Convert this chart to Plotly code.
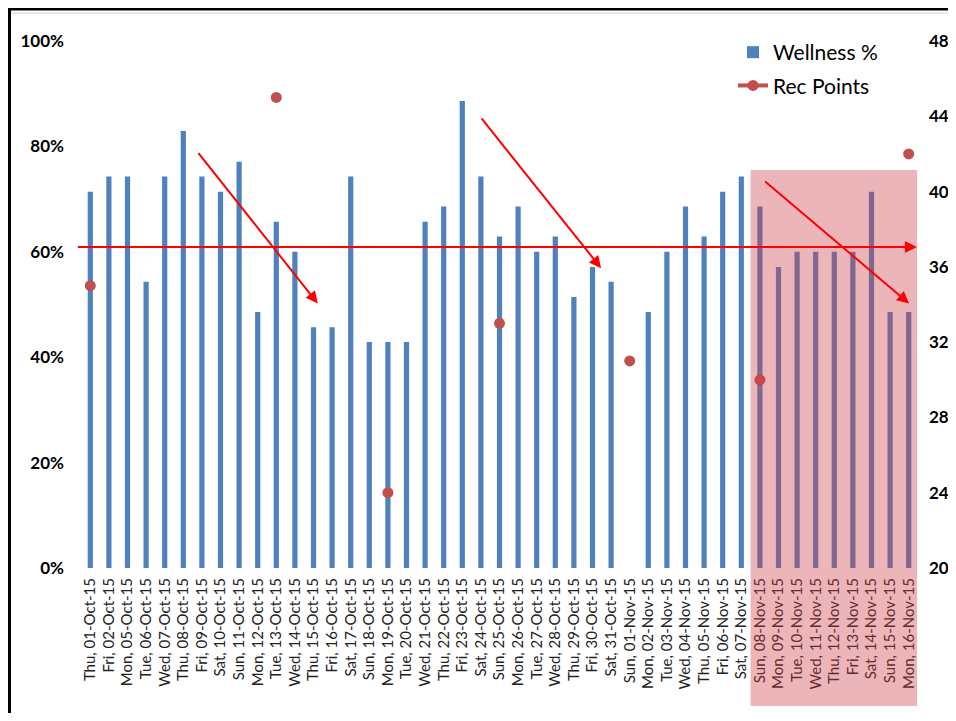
import plotly.graph_objects as go

dates = [
    "Thu, 01-Oct-15", "Fri, 02-Oct-15", "Mon, 05-Oct-15", "Tue, 06-Oct-15", "Wed, 07-Oct-15",
    "Thu, 08-Oct-15", "Fri, 09-Oct-15", "Sat, 10-Oct-15", "Sun, 11-Oct-15", "Mon, 12-Oct-15",
    "Tue, 13-Oct-15", "Wed, 14-Oct-15", "Thu, 15-Oct-15", "Fri, 16-Oct-15", "Sat, 17-Oct-15",
    "Sun, 18-Oct-15", "Mon, 19-Oct-15", "Tue, 20-Oct-15", "Wed, 21-Oct-15", "Thu, 22-Oct-15",
    "Fri, 23-Oct-15", "Sat, 24-Oct-15", "Sun, 25-Oct-15", "Mon, 26-Oct-15", "Tue, 27-Oct-15",
    "Wed, 28-Oct-15", "Thu, 29-Oct-15", "Fri, 30-Oct-15", "Sat, 31-Oct-15", "Sun, 01-Nov-15",
    "Mon, 02-Nov-15", "Tue, 03-Nov-15", "Wed, 04-Nov-15", "Thu, 05-Nov-15", "Fri, 06-Nov-15",
    "Sat, 07-Nov-15", "Sun, 08-Nov-15", "Mon, 09-Nov-15", "Tue, 10-Nov-15", "Wed, 11-Nov-15",
    "Thu, 12-Nov-15", "Fri, 13-Nov-15", "Sat, 14-Nov-15", "Sun, 15-Nov-15", "Mon, 16-Nov-15",
]

wellness = [
    0.714, 0.743, 0.743, 0.543, 0.743,
    0.829, 0.743, 0.714, 0.771, 0.486,
    0.657, 0.600, 0.457, 0.457, 0.743,
    0.429, 0.429, 0.429, 0.657, 0.686,
    0.886, 0.743, 0.629, 0.686, 0.600,
    0.629, 0.514, 0.571, 0.543, None,
    0.486, 0.600, 0.686, 0.629, 0.714,
    0.743, 0.686, 0.571, 0.600, 0.600,
    0.600, 0.600, 0.714, 0.486, 0.486,
]

rec_points = [
    35, None, None, None, None,
    None, None, None, None, None,
    45, None, None, None, None,
    None, 24, None, None, None,
    None, None, 33, None, None,
    None, None, None, None, 31,
    None, None, None, None, None,
    None, 30, None, None, None,
    None, None, None, None, 42,
]

left_ticks = [0, 0.2, 0.4, 0.6, 0.8, 1.0]
right_ticks = [20, 24, 28, 32, 36, 40, 44, 48]

# decorative annotation geometry (category index, wellness fraction)
avg_level = 0.609
trend_arrows = [
    ((5.75, 0.79), (12.23, 0.502)),
    ((20.97, 0.856), (27.46, 0.569)),
    ((36.2, 0.736), (44.02, 0.502)),
]

# layout in page pixels; the page body adds an 8px offset
OFF = 8
W, H = 940, 705
L, R, T, B = 81 - OFF, 918 - OFF, 41 - OFF, 568 - OFF


def px(x):
    return (x - OFF - L) / (R - L)


def py(y):
    return (B - (y - OFF)) / (B - T)


idx = list(range(len(dates)))

fig = go.Figure()
fig.add_trace(go.Bar(
    x=idx, y=wellness, name="Wellness %", legendgroup="a",
    marker=dict(color="#4F81BD", line=dict(width=0)),
    width=0.28,
))
fig.add_trace(go.Scatter(
    x=idx, y=rec_points, name="Rec Points", yaxis="y2", legendgroup="b",
    mode="lines+markers", connectgaps=False,
    line=dict(color="#C0504D", width=4),
    marker=dict(color="#C0504D", size=11),
))

annotations = []
annotations.append(dict(
    x=44.44, y=avg_level, xref="x", yref="y",
    ax=-0.75, ay=avg_level, axref="x", ayref="y",
    showarrow=True, arrowhead=2, arrowsize=1.2, arrowwidth=2, arrowcolor="#FF0000", text="",
))
for (x0, y0), (x1, y1) in trend_arrows:
    annotations.append(dict(
        x=x1, y=y1, xref="x", yref="y",
        ax=x0, ay=y0, axref="x", ayref="y",
        showarrow=True, arrowhead=2, arrowsize=1.2, arrowwidth=2, arrowcolor="#FF0000", text="",
    ))

shapes = [
    dict(type="rect", xref="x", yref="paper", x0=35.5, x1=44.45, y0=py(706), y1=py(170),
         fillcolor="rgba(205,60,70,0.38)", line=dict(width=0), layer="above"),
    dict(type="line", xref="paper", yref="paper", x0=px(8), x1=px(948), y0=py(9), y1=py(9),
         line=dict(color="#000000", width=3)),
    dict(type="line", xref="paper", yref="paper", x0=px(9.5), x1=px(9.5), y0=py(8), y1=py(713),
         line=dict(color="#000000", width=3)),
    dict(type="line", xref="paper", yref="paper", x0=px(11), x1=px(948), y0=py(13), y1=py(13),
         line=dict(color="#C8D8C8", width=1)),
]

fig.update_layout(
    width=W, height=H,
    margin=dict(l=L, r=W - R, t=T, b=H - B, pad=0, autoexpand=False),
    paper_bgcolor="white", plot_bgcolor="white",
    font=dict(family="Lato, Carlito, Calibri, sans-serif", color="#000000"),
    xaxis=dict(
        tickmode="array", tickvals=idx, ticktext=dates, tickangle=-90, automargin=False,
        range=[-0.5, 44.5], showgrid=False, zeroline=False, showline=False, ticks="",
        tickfont=dict(size=15, color="#222222"), ticklabelstandoff=6,
    ),
    yaxis=dict(
        range=[0, 1], tickvals=left_ticks, tickformat=".0%", showgrid=False, zeroline=False,
        showline=False, ticks="", tickfont=dict(size=17, color="#000000", weight="bold"),
        ticklabelstandoff=16, automargin=False,
    ),
    yaxis2=dict(
        range=[20, 48], tickvals=right_ticks, overlaying="y", side="right", showgrid=False,
        zeroline=False, showline=False, ticks="", automargin=False,
        tickfont=dict(size=17, color="#000000", weight="bold"), ticklabelstandoff=10,
    ),
    legend=dict(
        x=px(733), y=py(32), xanchor="left", yanchor="top",
        font=dict(size=21, color="#000000"), bgcolor="rgba(0,0,0,0)", tracegroupgap=3,
    ),
    annotations=annotations,
    shapes=shapes,
    showlegend=True,
)

fig.write_html("out.html")
